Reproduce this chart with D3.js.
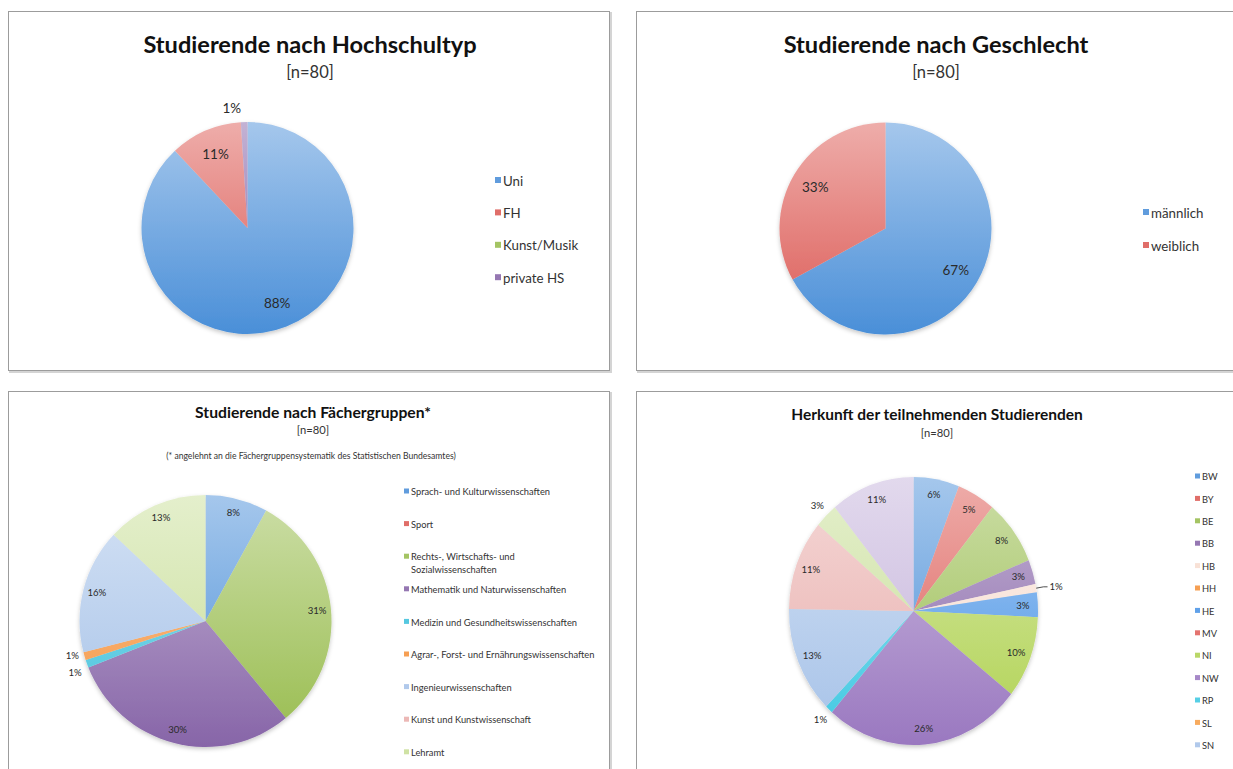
<!DOCTYPE html>
<html>
<head>
<meta charset="utf-8">
<script src="https://cdn.jsdelivr.net/npm/d3@7"></script>
<style>
  body { margin: 0; background: #fff; }
  svg { display: block; font-family: Lato, "Open Sans", sans-serif; }
</style>
</head>
<body>
<svg id="chart" width="1233" height="769"></svg>
<script>
// --- data (percent values as labelled in the picture) ---
const typCategories = ['Uni', 'FH', 'Kunst/Musik', 'private HS'];
const typValues = [88, 11, 0, 1];

const sexCategories = ['männlich', 'weiblich'];
const sexValues = [67, 33];

const fachCategories = [
  'Sprach- und Kulturwissenschaften',
  'Sport',
  'Rechts-, Wirtschafts- und Sozialwissenschaften',
  'Mathematik und Naturwissenschaften',
  'Medizin und Gesundheitswissenschaften',
  'Agrar-, Forst- und Ernährungswissenschaften',
  'Ingenieurwissenschaften',
  'Kunst und Kunstwissenschaft',
  'Lehramt'
];
const fachValues = [8, 0, 31, 30, 1, 1, 16, 0, 13];

const landCategories = ['BW', 'BY', 'BE', 'BB', 'HB', 'HH', 'HE', 'MV', 'NI', 'NW', 'RP', 'SL', 'SN', 'ST', 'SH', 'TH'];
const landValues = [6, 5, 8, 3, 1, 0, 3, 0, 10, 26, 1, 0, 13, 11, 3, 11];

// --- colours (bottom tone of each slice gradient) ---
const officeColors = ['#4a8fd8', '#dc5a55', '#98bc4e', '#8765a8', '#3fc1dc', '#f5923c', '#a6c2e8', '#e9aeac', '#c8de98', '#c4b2da'];
const landColors = ['#4a8fd8', '#dc5a55', '#98bc4e', '#8765a8', '#f7ddd0', '#f5923c', '#4a94e6', '#e0605b', '#b0d252', '#9a78c0', '#3fc8e2', '#f7a048', '#a6c2e8', '#e9aeac', '#c8de98', '#c4b2da'];

const svg = d3.select('#chart');
const H = +svg.attr('height');
const defs = svg.append('defs');

const shadow = defs.append('filter').attr('id', 'shadow')
  .attr('x', '-10%').attr('y', '-10%').attr('width', '120%').attr('height', '125%');
shadow.append('feDropShadow')
  .attr('dx', 0).attr('dy', 2).attr('stdDeviation', 2)
  .attr('flood-color', '#000').attr('flood-opacity', 0.22);

// panel frames
const frames = [
  { x: 8.5, y: 11.5, w: 601, h: 359 },
  { x: 636.5, y: 11.5, w: 620, h: 359 },
  { x: 8.5, y: 391.5, w: 601, h: 420 },
  { x: 636.5, y: 391.5, w: 620, h: 420 }
];
frames.forEach(f => {
  svg.append('rect')
    .attr('x', f.x + 1.5).attr('y', f.y + 1.5).attr('width', f.w).attr('height', f.h)
    .attr('fill', 'none').attr('stroke', '#d4d4d4').attr('stroke-width', 2);
  svg.append('rect')
    .attr('x', f.x).attr('y', f.y).attr('width', f.w).attr('height', f.h)
    .attr('fill', '#fff').attr('stroke', '#9c9c9c').attr('stroke-width', 1);
});

let gradId = 0;

function drawPie(opt) {
  const g = svg.append('g');
  const rx = opt.r;
  const ry = opt.ry || opt.r;

  const pie = d3.pie().sort(null).value(d => d.value);
  const arcs = pie(opt.categories.map((c, i) => ({ name: c, value: opt.values[i], color: opt.colors[i] })));
  const arc = d3.arc().innerRadius(0).outerRadius(rx);

  const pieG = g.append('g')
    .attr('transform', `translate(${opt.cx},${opt.cy}) scale(1,${ry / rx})`)
    .attr('filter', 'url(#shadow)');

  pieG.selectAll('path')
    .data(arcs.filter(d => d.data.value > 0))
    .join('path')
    .attr('d', arc)
    .attr('fill', d => {
      const id = 'grad' + (gradId++);
      const lg = defs.append('linearGradient').attr('id', id)
        .attr('gradientUnits', 'userSpaceOnUse')
        .attr('x1', 0).attr('y1', -rx).attr('x2', 0).attr('y2', rx);
      lg.append('stop').attr('offset', 0).attr('stop-color', d3.interpolateRgb(d.data.color, '#fff')(0.5));
      lg.append('stop').attr('offset', 1).attr('stop-color', d.data.color);
      return `url(#${id})`;
    });

  // data labels
  const pos = (d, f) => {
    const a = (d.startAngle + d.endAngle) / 2;
    return [opt.cx + Math.sin(a) * rx * f, opt.cy - Math.cos(a) * ry * f];
  };
  const labels = [];
  arcs.filter(d => d.data.value > 0).forEach(d => {
    const outside = opt.outside.includes(d.data.name);
    const leader = (opt.leader || []).includes(d.data.name);
    let [x, y] = pos(d, outside ? opt.outF : opt.inF);
    let anchor = 'middle';
    if (leader) {
      const p0 = pos(d, 1.0);
      const p1 = pos(d, 1.06);
      g.append('path')
        .attr('d', d3.line()([p0, p1, [p1[0] + 4, p1[1]]]))
        .attr('fill', 'none').attr('stroke', '#222').attr('stroke-width', 0.8);
      x = p1[0] + 6; y = p1[1];
      anchor = 'start';
    }
    if (opt.labelDx && opt.labelDx[d.data.name]) x += opt.labelDx[d.data.name];
    labels.push({ d, x, y, anchor, outside: outside && !leader });
  });

  // push neighbouring outside labels apart
  const outs = labels.filter(l => l.outside).sort((a, b) => a.y - b.y);
  const gap = opt.labelSize * 1.75;
  for (let i = 1; i < outs.length; i++) {
    const a = outs[i - 1], b = outs[i];
    if (Math.abs(a.x - b.x) < 30 && b.y - a.y < gap) {
      const need = (gap - (b.y - a.y)) / 2;
      a.y -= need; b.y += need;
    }
  }

  labels.forEach(l => {
    g.append('text')
      .attr('x', l.x).attr('y', l.y).attr('dy', '0.35em')
      .attr('text-anchor', l.anchor)
      .attr('font-size', opt.labelSize)
      .attr('fill', '#2a2a2a')
      .text(l.d.data.value + '%');
  });

  // legend (entries below the window are cut off, as in the screenshot)
  const lg = g.append('g');
  opt.categories.forEach((c, i) => {
    const y = opt.legY + i * opt.legStep;
    if (y + opt.legSize > H) return;
    lg.append('rect')
      .attr('x', opt.legX).attr('y', y - opt.sq / 2 - 1)
      .attr('width', opt.sq).attr('height', opt.sq)
      .attr('fill', d3.interpolateRgb(opt.colors[i], '#fff')(0.12));
    const tx = opt.legX + opt.sq + 2;
    const t = lg.append('text')
      .attr('x', tx).attr('y', y).attr('dy', '0.35em')
      .attr('font-size', opt.legSize).attr('fill', '#333');
    // word wrap
    const words = c.split(' ');
    let line = [];
    let tspan = t.append('tspan').attr('x', tx);
    words.forEach(w => {
      line.push(w);
      tspan.text(line.join(' '));
      if (opt.legMax && tspan.node().getComputedTextLength() > opt.legMax && line.length > 1) {
        line.pop();
        tspan.text(line.join(' '));
        line = [w];
        tspan = t.append('tspan').attr('x', tx)
          .attr('dy', opt.legSize * 1.4).text(w);
      }
    });
  });
}

function titles(cx, title, tY, tSize, sub, sY, sSize) {
  svg.append('text').attr('x', cx).attr('y', tY).attr('dy', '0.35em')
    .attr('text-anchor', 'middle').attr('font-weight', 'bold')
    .attr('font-size', tSize).attr('fill', '#111').text(title);
  svg.append('text').attr('x', cx).attr('y', sY).attr('dy', '0.35em')
    .attr('text-anchor', 'middle').attr('font-size', sSize)
    .attr('fill', '#333').text(sub);
}

// Panel 1
titles(310, 'Studierende nach Hochschultyp', 45, 23.6, '[n=80]', 72, 16.5);
drawPie({
  categories: typCategories, values: typValues, colors: officeColors,
  cx: 247.5, cy: 228, r: 106,
  inF: 0.76, outF: 1.13, outside: ['private HS'], labelSize: 13.5,
  labelDx: { 'private HS': -12 },
  legX: 495, legY: 181, legStep: 32.4, sq: 6, legSize: 13.3
});

// Panel 2
titles(936, 'Studierende nach Geschlecht', 45, 23.6, '[n=80]', 72, 16.5);
drawPie({
  categories: sexCategories, values: sexValues, colors: officeColors,
  cx: 885.5, cy: 228.5, r: 106,
  inF: 0.77, outF: 1.13, outside: [], labelSize: 13.5,
  labelDx: {},
  legX: 1143, legY: 213, legStep: 33, sq: 6, legSize: 13.3
});

// Panel 3
titles(313, 'Studierende nach Fächergruppen*', 413, 15.7, '[n=80]', 430, 11.2);
svg.append('text').attr('x', 311).attr('y', 456).attr('dy', '0.35em')
  .attr('text-anchor', 'middle').attr('font-size', 8.6).attr('fill', '#333')
  .text('(* angelehnt an die Fächergruppensystematik des Statistischen Bundesamtes)');
drawPie({
  categories: fachCategories, values: fachValues, colors: officeColors,
  cx: 205.5, cy: 621, r: 126,
  inF: 0.89, outF: 1.1, outside: ['Medizin und Gesundheitswissenschaften', 'Agrar-, Forst- und Ernährungswissenschaften'],
  labelSize: 9.6,
  legX: 404, legY: 492, legStep: 32.6, sq: 5, legSize: 9.3, legMax: 190
});

// Panel 4
titles(937, 'Herkunft der teilnehmenden Studierenden', 415, 15.5, '[n=80]', 433, 11.2);
drawPie({
  categories: landCategories, values: landValues, colors: landColors,
  cx: 913.5, cy: 611, r: 124.5, ry: 134,
  inF: 0.88, outF: 1.1, outside: ['HB', 'RP', 'SH'], leader: ['HB'],
  labelSize: 9.6,
  legX: 1195, legY: 477, legStep: 22.4, sq: 5, legSize: 9.3
});
</script>
</body>
</html>
